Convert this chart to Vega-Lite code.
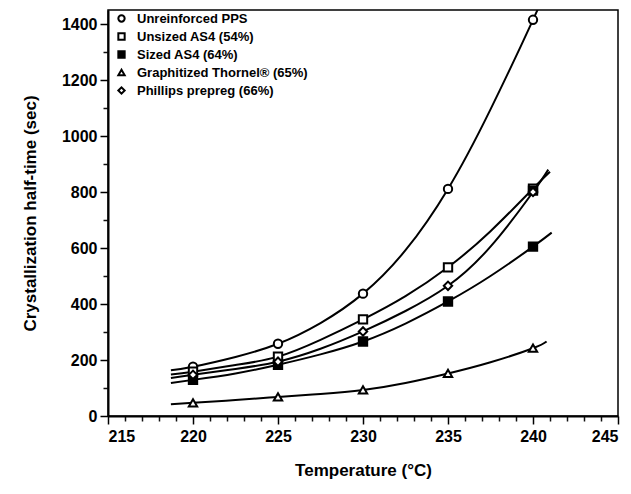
{
  "$schema": "https://vega.github.io/schema/vega-lite/v6.json",
  "width": 510,
  "height": 406,
  "autosize": {"type": "none"},
  "padding": {"left": 108, "top": 10, "right": 13, "bottom": 78},
  "background": "white",
  "config": {
    "view": {"stroke": "black", "strokeWidth": 1.5},
    "font": "Liberation Sans",
    "axis": {
      "grid": false,
      "domainColor": "black",
      "domainWidth": 2,
      "tickWidth": 1.5,
      "labelColor": "black",
      "labelFont": "Liberation Sans",
      "labelFontWeight": "bold",
      "labelFontSize": 16,
      "labelOverlap": false,
      "titleFont": "Liberation Sans",
      "titleFontWeight": "bold",
      "titleFontSize": 17,
      "titleColor": "black"
    },
    "legend": {
      "labelFont": "Liberation Sans",
      "labelFontWeight": "bold",
      "labelFontSize": 13,
      "labelColor": "black",
      "labelLimit": 400
    }
  },
  "datasets": {
    "curves": [
      {"series": "Unreinforced PPS", "T": 218.7, "t": 163},
      {"series": "Unreinforced PPS", "T": 220, "t": 176},
      {"series": "Unreinforced PPS", "T": 222.5, "t": 211},
      {"series": "Unreinforced PPS", "T": 225, "t": 258},
      {"series": "Unreinforced PPS", "T": 227.5, "t": 332},
      {"series": "Unreinforced PPS", "T": 230, "t": 437},
      {"series": "Unreinforced PPS", "T": 232.5, "t": 592},
      {"series": "Unreinforced PPS", "T": 235, "t": 811},
      {"series": "Unreinforced PPS", "T": 237.5, "t": 1095},
      {"series": "Unreinforced PPS", "T": 240, "t": 1415},
      {"series": "Unreinforced PPS", "T": 240.3, "t": 1460},
      {"series": "Unsized AS4 (54%)", "T": 218.7, "t": 148},
      {"series": "Unsized AS4 (54%)", "T": 220, "t": 158},
      {"series": "Unsized AS4 (54%)", "T": 222.5, "t": 182},
      {"series": "Unsized AS4 (54%)", "T": 225, "t": 212},
      {"series": "Unsized AS4 (54%)", "T": 227.5, "t": 272},
      {"series": "Unsized AS4 (54%)", "T": 230, "t": 345},
      {"series": "Unsized AS4 (54%)", "T": 232.5, "t": 428},
      {"series": "Unsized AS4 (54%)", "T": 235, "t": 531},
      {"series": "Unsized AS4 (54%)", "T": 237.5, "t": 660},
      {"series": "Unsized AS4 (54%)", "T": 240, "t": 812},
      {"series": "Unsized AS4 (54%)", "T": 241, "t": 872},
      {"series": "Sized AS4 (64%)", "T": 218.7, "t": 118},
      {"series": "Sized AS4 (64%)", "T": 220, "t": 129},
      {"series": "Sized AS4 (64%)", "T": 222.5, "t": 152},
      {"series": "Sized AS4 (64%)", "T": 225, "t": 183},
      {"series": "Sized AS4 (64%)", "T": 227.5, "t": 220},
      {"series": "Sized AS4 (64%)", "T": 230, "t": 266},
      {"series": "Sized AS4 (64%)", "T": 232.5, "t": 330},
      {"series": "Sized AS4 (64%)", "T": 235, "t": 409},
      {"series": "Sized AS4 (64%)", "T": 237.5, "t": 500},
      {"series": "Sized AS4 (64%)", "T": 240, "t": 605},
      {"series": "Sized AS4 (64%)", "T": 241.1, "t": 655},
      {"series": "Graphitized Thornel® (65%)", "T": 218.7, "t": 42},
      {"series": "Graphitized Thornel® (65%)", "T": 220, "t": 47},
      {"series": "Graphitized Thornel® (65%)", "T": 222.5, "t": 57},
      {"series": "Graphitized Thornel® (65%)", "T": 225, "t": 68},
      {"series": "Graphitized Thornel® (65%)", "T": 227.5, "t": 79},
      {"series": "Graphitized Thornel® (65%)", "T": 230, "t": 93},
      {"series": "Graphitized Thornel® (65%)", "T": 232.5, "t": 118},
      {"series": "Graphitized Thornel® (65%)", "T": 235, "t": 152},
      {"series": "Graphitized Thornel® (65%)", "T": 237.5, "t": 192},
      {"series": "Graphitized Thornel® (65%)", "T": 240, "t": 242},
      {"series": "Graphitized Thornel® (65%)", "T": 240.8, "t": 266},
      {"series": "Phillips prepreg (66%)", "T": 218.7, "t": 136},
      {"series": "Phillips prepreg (66%)", "T": 220, "t": 147},
      {"series": "Phillips prepreg (66%)", "T": 222.5, "t": 168},
      {"series": "Phillips prepreg (66%)", "T": 225, "t": 194},
      {"series": "Phillips prepreg (66%)", "T": 227.5, "t": 240},
      {"series": "Phillips prepreg (66%)", "T": 230, "t": 302},
      {"series": "Phillips prepreg (66%)", "T": 232.5, "t": 375},
      {"series": "Phillips prepreg (66%)", "T": 235, "t": 465},
      {"series": "Phillips prepreg (66%)", "T": 237.5, "t": 605},
      {"series": "Phillips prepreg (66%)", "T": 240, "t": 800},
      {"series": "Phillips prepreg (66%)", "T": 240.9, "t": 880}
    ],
    "points": [
      {"series": "Unreinforced PPS", "T": 220, "t": 176},
      {"series": "Unreinforced PPS", "T": 225, "t": 258},
      {"series": "Unreinforced PPS", "T": 230, "t": 437},
      {"series": "Unreinforced PPS", "T": 235, "t": 811},
      {"series": "Unreinforced PPS", "T": 240, "t": 1415},
      {"series": "Unsized AS4 (54%)", "T": 220, "t": 158},
      {"series": "Unsized AS4 (54%)", "T": 225, "t": 212},
      {"series": "Unsized AS4 (54%)", "T": 230, "t": 345},
      {"series": "Unsized AS4 (54%)", "T": 235, "t": 531},
      {"series": "Unsized AS4 (54%)", "T": 240, "t": 812},
      {"series": "Sized AS4 (64%)", "T": 220, "t": 129},
      {"series": "Sized AS4 (64%)", "T": 225, "t": 183},
      {"series": "Sized AS4 (64%)", "T": 230, "t": 266},
      {"series": "Sized AS4 (64%)", "T": 235, "t": 409},
      {"series": "Sized AS4 (64%)", "T": 240, "t": 605},
      {"series": "Sized AS4 (64%)", "T": 240, "t": 805},
      {"series": "Graphitized Thornel® (65%)", "T": 220, "t": 47},
      {"series": "Graphitized Thornel® (65%)", "T": 225, "t": 68},
      {"series": "Graphitized Thornel® (65%)", "T": 230, "t": 93},
      {"series": "Graphitized Thornel® (65%)", "T": 235, "t": 152},
      {"series": "Graphitized Thornel® (65%)", "T": 240, "t": 242},
      {"series": "Phillips prepreg (66%)", "T": 220, "t": 147},
      {"series": "Phillips prepreg (66%)", "T": 225, "t": 194},
      {"series": "Phillips prepreg (66%)", "T": 230, "t": 302},
      {"series": "Phillips prepreg (66%)", "T": 235, "t": 465},
      {"series": "Phillips prepreg (66%)", "T": 240, "t": 800}
    ]
  },
  "encoding": {
    "x": {"field": "T", "type": "quantitative", "scale": {"domain": [215, 245], "nice": false},
      "axis": {
        "values": [215,216,217,218,219,220,221,222,223,224,225,226,227,228,229,230,231,232,233,234,235,236,237,238,239,240,241,242,243,244,245],
        "tickColor": {"condition": {"test": "datum.value % 5 === 0", "value": "black"}, "value": "#111111"},
        "tickSize": {"condition": {"test": "datum.value % 5 === 0", "value": 8}, "value": 5},
        "labelExpr": "datum.value % 5 === 0 ? datum.label : ''",
        "labelPadding": 4,
        "title": "Temperature (°C)", "titlePadding": 18}},
    "y": {"field": "t", "type": "quantitative", "scale": {"domain": [0, 1450], "nice": false},
      "axis": {
        "values": [0,100,200,300,400,500,600,700,800,900,1000,1100,1200,1300,1400],
        "format": "d",
        "tickColor": {"condition": {"test": "datum.value % 200 === 0", "value": "black"}, "value": "#111111"},
        "tickSize": {"condition": {"test": "datum.value % 200 === 0", "value": 8}, "value": 5},
        "labelExpr": "datum.value % 200 === 0 ? datum.label : ''",
        "labelPadding": 3,
        "title": "Crystallization half-time (sec)", "titlePadding": 22}}
  },
  "layer": [
    {
      "data": {"name": "curves"},
      "mark": {"type": "line", "color": "black", "strokeWidth": 2, "interpolate": "natural", "clip": true},
      "encoding": {
        "detail": {"field": "series"}
      }
    },
    {
      "data": {"name": "points"},
      "mark": {"type": "point", "stroke": "black", "strokeWidth": 2, "opacity": 1, "size": 70},
      "encoding": {
        "shape": {"field": "series", "type": "nominal",
          "scale": {"domain": ["Unreinforced PPS", "Unsized AS4 (54%)", "Sized AS4 (64%)", "Graphitized Thornel® (65%)", "Phillips prepreg (66%)"],
                    "range": ["circle", "square", "square", "triangle-up", "diamond"]},
          "legend": {"title": null, "orient": "none", "legendX": 7, "legendY": 2, "rowPadding": 3, "symbolSize": 40, "labelOffset": 9,
            "symbolStrokeWidth": 2,
            "encode": {"symbols": {"update": {"stroke": {"value": "black"}, "strokeWidth": {"value": 2}}}}}},
        "fill": {"field": "series", "type": "nominal",
          "scale": {"domain": ["Unreinforced PPS", "Unsized AS4 (54%)", "Sized AS4 (64%)", "Graphitized Thornel® (65%)", "Phillips prepreg (66%)"],
                    "range": ["white", "white", "black", "white", "white"]},
          "legend": {"title": null, "orient": "none", "legendX": 7, "legendY": 2, "rowPadding": 3, "symbolSize": 40, "labelOffset": 9,
            "symbolStrokeWidth": 2,
            "encode": {"symbols": {"update": {"stroke": {"value": "black"}, "strokeWidth": {"value": 2}}}}}}
      }
    }
  ]
}
